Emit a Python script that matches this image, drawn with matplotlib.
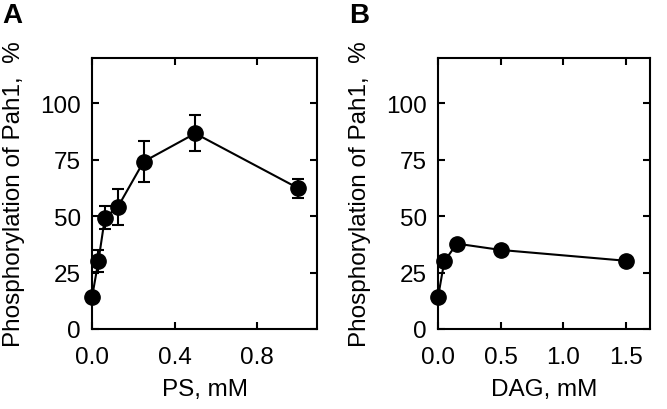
import numpy as np
import matplotlib
matplotlib.use("Agg")
import matplotlib.pyplot as plt

# --- data ---
ps_mm = [0, 0.03125, 0.0625, 0.125, 0.25, 0.5, 1.0]
ps_phos = [14.0, 30.2, 49.3, 54.0, 74.1, 86.6, 62.3]
ps_err = [2.0, 5.0, 5.0, 8.0, 9.0, 8.0, 4.2]

dag_mm = [0, 0.05, 0.15, 0.5, 1.5]
dag_phos = [14.0, 29.9, 37.8, 35.0, 30.2]

yticks = [0, 25, 50, 75, 100]

plt.rcParams['font.family'] = ['Liberation Sans', 'DejaVu Sans']
fs = 17.5

fig = plt.figure(figsize=(6.67, 4.10), dpi=100)
axA = fig.add_axes([92/667, 80/410, 225/667, 271/410])
axB = fig.add_axes([438/667, 80/410, 212/667, 271/410])


def style(ax, w):
    ax.tick_params(direction='in', length=5, width=1.5, top=True, right=True,
                   labelsize=fs)
    ax.tick_params(axis='y', pad=8)
    ax.tick_params(axis='x', pad=12)
    for s in ax.spines.values():
        s.set_linewidth(1.5)
    ax.set_ylim(0, 120)
    ax.set_yticks(yticks)
    ax.set_ylabel("Phosphorylation of Pah1,  %", fontsize=fs)
    ax.yaxis.set_label_coords(-67 / w, 0.5)
    ax.xaxis.set_label_coords(0.5, -49 / 271)


axA.errorbar(ps_mm, ps_phos, yerr=ps_err, color='black', lw=1.5, marker='o',
             ms=11, capsize=4, elinewidth=1.5, capthick=1.5, clip_on=False, zorder=3)
axA.set_xlim(0, 1.09)
axA.set_xticks([0.0, 0.4, 0.8])
axA.set_xticklabels(["0.0", "0.4", "0.8"])
axA.set_xlabel("PS, mM", fontsize=fs)
style(axA, 225)

axB.plot(dag_mm, dag_phos, color='black', lw=1.5, marker='o', ms=11,
         clip_on=False, zorder=3)
axB.set_xlim(0, 1.69)
axB.set_xticks([0.0, 0.5, 1.0, 1.5])
axB.set_xticklabels(["0.0", "0.5", "1.0", "1.5"])
axB.set_xlabel("DAG, mM", fontsize=fs)
style(axB, 212)

fig.text(2/667, 1 - 3/410, "A", fontsize=20, fontweight='bold', va='top', ha='left')
fig.text(349/667, 1 - 3/410, "B", fontsize=20, fontweight='bold', va='top', ha='left')

fig.savefig("out.png", dpi=100)
